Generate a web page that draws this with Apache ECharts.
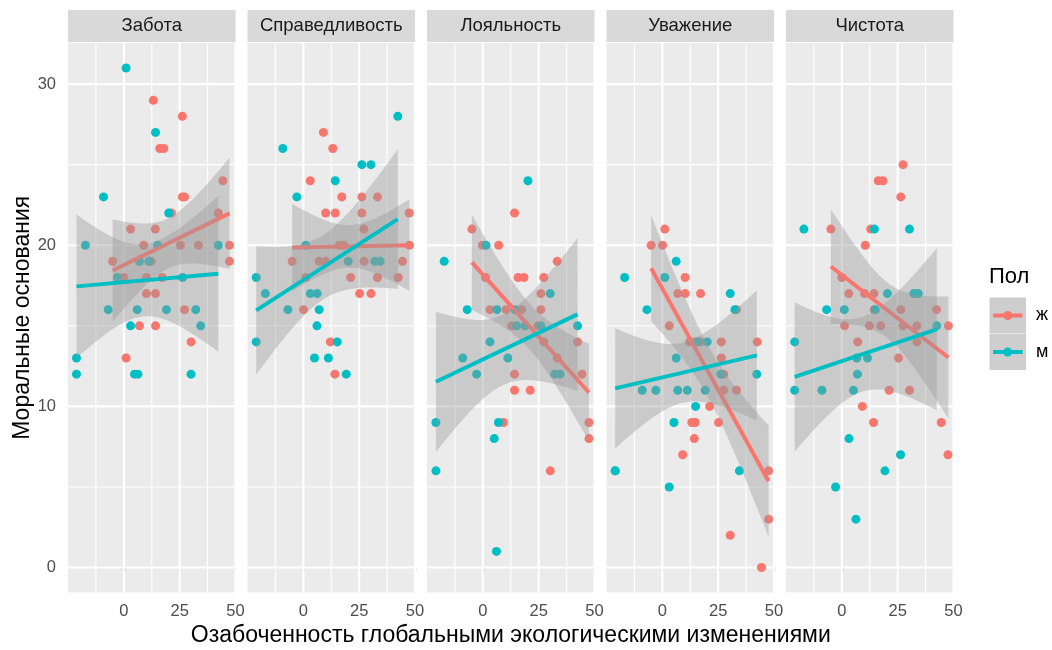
<!DOCTYPE html>
<html><head><meta charset="utf-8">
<script src="https://cdn.jsdelivr.net/npm/echarts@6/dist/echarts.min.js"></script>
<style>html,body{margin:0;padding:0;background:#fff}#c{width:1052px;height:650px}</style>
</head><body><div id="c"></div>
<script>
// ---------- data ----------
const facets = ['Забота','Справедливость','Лояльность','Уважение','Чистота'];
const groups = ['ж','м'];
const groupColors = ['#F8766D','#00BFC4'];
const xTicks = [0, 25, 50];
const yTicks = [0, 10, 20, 30];
const xMinorBreaks = [-12.5, 12.5, 37.5];
const yMinorBreaks = [5, 15, 25];
const xTitle = 'Озабоченность глобальными экологическими изменениями';
const yTitle = 'Моральные основания';
const legendTitle = 'Пол';

const careF = [[13.2,29],[26.2,28],[16.1,26],[17.9,26],[44.3,24],[26.2,23],[27.2,23],[21.3,22],[42.3,22],[3.0,21],[14.1,21],[8.9,20],[25.3,20],[33.4,20],[47.3,20],[-5.0,19],[12.2,19],[47.3,19],[0.0,18],[10.1,18],[17.2,18],[10.1,17],[14.2,17],[27.2,16],[7.0,15],[14.2,15],[30.1,14],[1.0,13]];
const careM = [[1.0,31],[14.2,27],[-9.1,23],[20.1,22],[-17.2,20],[15.1,20],[42.3,20],[7.0,19],[11.2,19],[-2.9,18],[26.3,18],[-7.0,16],[6.0,16],[19.1,16],[32.2,16],[3.0,15],[34.4,15],[-21.2,13],[-21.2,12],[4.8,12],[6.3,12],[30.1,12]];
const fairF = [[9.0,27],[13.2,26],[3.1,24],[17.2,23],[26.2,23],[33.2,23],[10.0,22],[14.3,22],[26.2,22],[47.4,22],[27.1,21],[16.1,20],[18.1,20],[47.5,20],[-5.0,19],[7.1,19],[10.0,19],[27.2,19],[44.4,19],[1.1,18],[21.2,18],[33.2,18],[42.5,18],[25.2,17],[30.3,17],[0.1,16],[12.1,14],[14.1,12]];
const fairM = [[42.3,28],[-9.2,26],[26.2,25],[30.3,25],[14.3,24],[-2.9,23],[1.1,20],[20.1,19],[32.0,19],[34.4,19],[-21.1,18],[-17.0,17],[3.1,17],[6.2,17],[-6.9,16],[7.1,16],[6.1,15],[-21.1,14],[15.2,14],[5.0,13],[11.2,13],[19.2,12]];
const loyalF = [[14.2,22],[-4.9,21],[-0.2,20],[7.1,20],[33.3,19],[1.2,18],[15.8,18],[18.4,18],[27.3,18],[26.0,17],[3.2,16],[10.4,16],[17.4,16],[26.0,16],[12.9,15],[24.6,15],[27.3,14],[42.4,14],[33.3,13],[14.2,12],[44.4,12],[14.2,11],[21.2,11],[9.2,9],[47.5,9],[47.5,8],[30.2,6]];
const loyalM = [[20.2,24],[1.4,20],[-17.3,19],[30.2,17],[-7.0,16],[6.3,16],[14.4,16],[15.1,15],[18.9,15],[26.0,15],[42.4,15],[3.2,14],[-9.0,13],[11.2,13],[-2.8,12],[32.2,12],[34.6,12],[-21.0,9],[7.0,9],[5.1,8],[-21.0,6],[6.1,1]];
const respF = [[1.1,21],[-5.0,20],[0.1,20],[10.2,18],[6.9,17],[10.2,17],[17.1,17],[33.2,16],[3.1,15],[12.2,14],[14.6,14],[17.1,14],[26.4,14],[42.5,14],[26.4,13],[27.5,12],[27.4,11],[33.2,11],[21.2,10],[13.2,9],[14.7,9],[25.2,9],[14.3,8],[9.1,7],[47.6,6],[47.6,3],[30.4,2],[44.4,0]];
const respM = [[6.2,19],[-16.9,18],[1.1,18],[30.4,17],[-6.9,16],[32.5,16],[15.9,14],[20.1,14],[6.2,13],[26.2,12],[42.3,12],[-9.0,11],[-2.9,11],[6.9,11],[11.2,11],[19.2,11],[14.9,10],[5.2,9],[-21.1,6],[-21.1,6],[34.5,6],[3.1,5]];
const purF = [[27.4,25],[16.3,24],[18.4,24],[26.4,23],[-4.9,21],[12.9,21],[10.5,20],[0.0,18],[3.1,17],[10.2,17],[14.4,17],[14.4,16],[26.4,16],[42.4,16],[1.2,15],[12.4,15],[17.4,15],[27.4,15],[33.6,15],[47.7,15],[7.1,14],[33.6,14],[25.4,13],[21.2,11],[30.3,11],[9.2,10],[14.2,9],[44.5,9],[47.5,7]];
const purM = [[-17.0,21],[14.6,21],[30.3,21],[20.4,17],[32.2,17],[34.2,17],[-6.8,16],[1.1,16],[15.0,16],[42.5,15],[-21.1,14],[6.7,13],[11.5,13],[7.0,12],[-21.1,11],[-8.9,11],[5.2,11],[3.2,8],[26.3,7],[19.3,6],[-2.8,5],[6.3,3]];

const facetData = [[careF, careM],[fairF, fairM],[loyalF, loyalM],[respF, respM],[purF, purM]];

// ---------- layout ----------
const FONT = 'Liberation Sans, Arial, Helvetica, sans-serif';
const LEFTS = [68, 247.5, 427, 606.5, 786];
const PW = 167.5, TOP = 43, PH = 549.5;
const XMIN = -25, XMAX = 50, YMIN = -1.55, YMAX = 32.55;

// ---------- stats (lm + 95% CI) ----------
function tq(df){
  const z = 1.959964;
  const g1 = (z**3 + z)/4, g2 = (5*z**5 + 16*z**3 + 3*z)/96, g3 = (3*z**7 + 19*z**5 + 17*z**3 - 15*z)/384;
  return z + g1/df + g2/df**2 + g3/df**3;
}
function fit(pts){
  const n = pts.length;
  let mx = 0, my = 0;
  pts.forEach(p => { mx += p[0]; my += p[1]; });
  mx /= n; my /= n;
  let sxx = 0, sxy = 0;
  pts.forEach(p => { sxx += (p[0]-mx)**2; sxy += (p[0]-mx)*(p[1]-my); });
  const b = sxy/sxx, a = my - b*mx;
  let sse = 0;
  pts.forEach(p => { sse += (p[1] - a - b*p[0])**2; });
  const s = Math.sqrt(sse/(n-2)), t = tq(n-2);
  const xs = pts.map(p => p[0]);
  const x0 = Math.min(...xs), x1 = Math.max(...xs);
  const band = [];
  const K = 80;
  for (let k = 0; k <= K; k++){
    const x = x0 + (x1-x0)*k/K;
    const yh = a + b*x;
    const se = s*Math.sqrt(1/n + (x-mx)**2/sxx);
    band.push([x, yh - t*se, yh + t*se]);
  }
  return {a, b, x0, x1, band};
}
const clampY = v => Math.max(YMIN, Math.min(YMAX, v));

// ---------- build option ----------
const grids = [], xAxes = [], yAxes = [], series = [], graphics = [];

facets.forEach((name, i) => {
  grids.push({left: LEFTS[i], top: TOP, width: PW, height: PH, show: true, backgroundColor: '#EBEBEB', borderWidth: 0});
  xAxes.push({type: 'value', gridIndex: i, min: XMIN, max: XMAX, interval: 25,
    axisLine: {show: false},
    axisTick: {show: true, length: 4, lineStyle: {color: '#333333', width: 1.2}, customValues: xTicks},
    axisLabel: {customValues: xTicks, color: '#4D4D4D', fontSize: 16.5, fontFamily: FONT, margin: 10},
    splitLine: {show: false}});
  yAxes.push({type: 'value', gridIndex: i, min: YMIN, max: YMAX,
    axisLine: {show: false},
    axisTick: {show: i === 0, length: 4, lineStyle: {color: '#333333', width: 1.2}, customValues: yTicks},
    axisLabel: {show: i === 0, customValues: yTicks, color: '#4D4D4D', fontSize: 16.5, fontFamily: FONT, margin: 12},
    splitLine: {show: false}});

  // grid lines
  const lines = [];
  yTicks.forEach(v => lines.push({ax: 'y', v, w: 2.2}));
  yMinorBreaks.forEach(v => lines.push({ax: 'y', v, w: 1.1}));
  xTicks.forEach(v => lines.push({ax: 'x', v, w: 2.2}));
  xMinorBreaks.forEach(v => lines.push({ax: 'x', v, w: 1.1}));
  series.push({type: 'custom', xAxisIndex: i, yAxisIndex: i, z: 1, silent: true, animation: false,
    data: lines.map(() => [0, 0]),
    renderItem: (params, api) => {
      const it = lines[params.dataIndex], cs = params.coordSys;
      if (it.ax === 'y'){
        const p = api.coord([0, it.v]);
        return {type: 'line', shape: {x1: cs.x, y1: p[1], x2: cs.x + cs.width, y2: p[1]}, style: {stroke: '#FFFFFF', lineWidth: it.w}};
      }
      const p = api.coord([it.v, 0]);
      return {type: 'line', shape: {x1: p[0], y1: cs.y, x2: p[0], y2: cs.y + cs.height}, style: {stroke: '#FFFFFF', lineWidth: it.w}};
    }});

  // points
  facetData[i].forEach((pts, g) => {
    series.push({type: 'scatter', name: groups[g], xAxisIndex: i, yAxisIndex: i, z: 2, animation: false,
      data: pts, symbolSize: 9, itemStyle: {color: groupColors[g], opacity: 1}});
  });

  // smooths
  facetData[i].forEach((pts, g) => {
    const f = fit(pts);
    series.push({type: 'custom', xAxisIndex: i, yAxisIndex: i, z: 3 + 2*g, silent: true, animation: false,
      data: [[f.x0, f.a + f.b*f.x0]],
      renderItem: (params, api) => {
        const poly = [];
        f.band.forEach(p => poly.push(api.coord([p[0], clampY(p[2])])));
        for (let k = f.band.length - 1; k >= 0; k--) poly.push(api.coord([f.band[k][0], clampY(f.band[k][1])]));
        return {type: 'polygon', shape: {points: poly}, style: {fill: 'rgba(153,153,153,0.4)'}};
      }});
    series.push({type: 'line', xAxisIndex: i, yAxisIndex: i, z: 4 + 2*g, silent: true, animation: false,
      data: [[f.x0, f.a + f.b*f.x0], [f.x1, f.a + f.b*f.x1]],
      showSymbol: false, symbol: 'none', lineStyle: {color: groupColors[g], width: 4}});
  });

  // strip
  graphics.push({type: 'rect', shape: {x: LEFTS[i], y: 10, width: PW, height: 32}, style: {fill: '#D9D9D9'}});
  graphics.push({type: 'text', x: LEFTS[i] + PW/2, y: 26, style: {text: name, fill: '#1A1A1A', font: '18.5px ' + FONT, textAlign: 'center', textVerticalAlign: 'middle'}});
});

// axis titles
graphics.push({type: 'text', x: (LEFTS[0] + LEFTS[4] + PW)/2, y: 636, style: {text: xTitle, fill: '#000', font: '23px ' + FONT, textAlign: 'center', textVerticalAlign: 'middle'}});
graphics.push({type: 'text', x: 23, y: TOP + PH/2, rotation: Math.PI/2, style: {text: yTitle, fill: '#000', font: '23px ' + FONT, textAlign: 'center', textVerticalAlign: 'middle'}});

// legend
graphics.push({type: 'text', x: 989, y: 277, style: {text: legendTitle, fill: '#000', font: '22px ' + FONT, textAlign: 'left', textVerticalAlign: 'middle'}});
groups.forEach((g, k) => {
  const y0 = 297.5 + k*36.5;
  graphics.push({type: 'rect', shape: {x: 989.5, y: y0, width: 36.5, height: 36}, style: {fill: '#CECECE'}});
  graphics.push({type: 'line', shape: {x1: 993, y1: y0 + 18, x2: 1022.5, y2: y0 + 18}, style: {stroke: groupColors[k], lineWidth: 4}});
  graphics.push({type: 'circle', shape: {cx: 1007.75, cy: y0 + 18, r: 4.5}, style: {fill: groupColors[k]}});
  graphics.push({type: 'text', x: 1036, y: y0 + 18, style: {text: g, fill: '#000', font: '18px ' + FONT, textAlign: 'left', textVerticalAlign: 'middle'}});
});

const chart = echarts.init(document.getElementById('c'));
chart.setOption({
  animation: false,
  backgroundColor: '#FFFFFF',
  grid: grids, xAxis: xAxes, yAxis: yAxes, series: series,
  graphic: graphics
});
</script></body></html>
